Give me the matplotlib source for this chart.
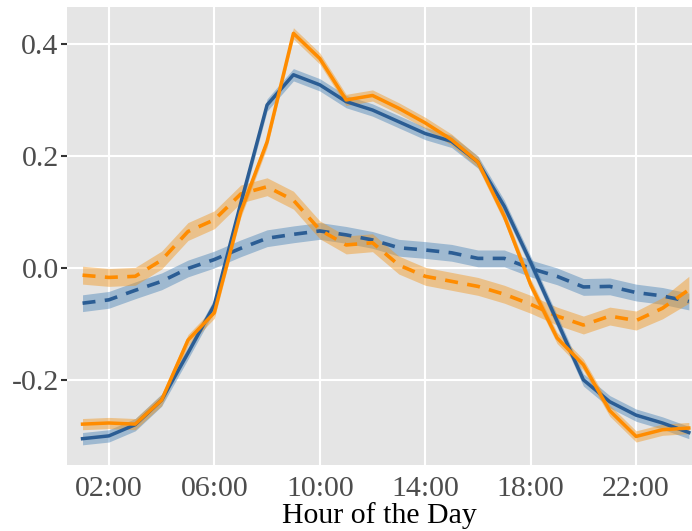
import numpy as np
import matplotlib.pyplot as plt

plt.rcParams['font.family'] = ['Liberation Serif', 'DejaVu Serif']
plt.rcParams['axes.unicode_minus'] = False

# hourly means, 1..24
hours = np.arange(1, 25)

blue_solid = [-0.305, -0.300, -0.280, -0.236, -0.152, -0.066, 0.115, 0.291,
              0.345, 0.327, 0.297, 0.282, 0.261, 0.240, 0.226, 0.189,
              0.110, 0.010, -0.095, -0.200, -0.239, -0.263, -0.277, -0.294]
orange_solid = [-0.279, -0.277, -0.279, -0.236, -0.129, -0.080, 0.100, 0.225,
                0.419, 0.374, 0.300, 0.308, 0.285, 0.259, 0.229, 0.189,
                0.092, -0.030, -0.125, -0.173, -0.255, -0.301, -0.289, -0.286]
blue_dash = [-0.063, -0.057, -0.040, -0.024, -0.001, 0.015, 0.035, 0.053,
             0.060, 0.066, 0.059, 0.050, 0.036, 0.032, 0.027, 0.017,
             0.017, -0.001, -0.015, -0.034, -0.033, -0.044, -0.050, -0.060]
orange_dash = [-0.013, -0.017, -0.015, 0.014, 0.065, 0.086, 0.132, 0.145,
               0.121, 0.068, 0.041, 0.045, 0.005, -0.015, -0.024, -0.033,
               -0.047, -0.065, -0.086, -0.102, -0.086, -0.094, -0.072, -0.039]

# half-widths of the shaded bands
blue_solid_ci = [0.011] * 24
orange_solid_ci = [0.010] * 24
blue_dash_ci = [0.015] * 24
orange_dash_ci = [0.016] * 21 + [0.017, 0.019, 0.024]

tick_hours = [2, 6, 10, 14, 18, 22]
tick_labels = ['02:00', '06:00', '10:00', '14:00', '18:00', '22:00']
y_ticks = [-0.2, 0.0, 0.2, 0.4]

BLUE = '#2b5d94'
BLUE_BAND = '#4a84b8'
ORANGE = '#ff8c00'
ORANGE_BAND = '#f2961e'

fig = plt.figure(figsize=(6.92, 5.31), dpi=100)
ax = fig.add_axes([0.0968, 0.1243, 0.9032, 0.8625])
ax.set_facecolor('#e5e5e5')

series = [
    (blue_dash, blue_dash_ci, BLUE, BLUE_BAND, '--'),
    (orange_dash, orange_dash_ci, ORANGE, ORANGE_BAND, '--'),
    (blue_solid, blue_solid_ci, BLUE, BLUE_BAND, '-'),
    (orange_solid, orange_solid_ci, ORANGE, ORANGE_BAND, '-'),
]
for vals, ci, col, band, ls in series:
    v = np.array(vals)
    c = np.array(ci)
    ax.fill_between(hours, v - c, v + c, color=band, alpha=0.45, lw=0)
    if ls == '--':
        ax.plot(hours, v, color=col, lw=2.6, dashes=(3.6, 2.6))
    else:
        ax.plot(hours, v, color=col, lw=2.5)

ax.set_xlim(0.41, 24.12)
ax.set_ylim(-0.352, 0.466)
ax.set_xticks(tick_hours)
ax.set_xticklabels(tick_labels)
ax.set_yticks(y_ticks)
ax.set_yticklabels(['-0.2', '0.0', '0.2', '0.4'])
ax.grid(True, color='white', lw=1.5)
ax.set_axisbelow(True)
for s in ax.spines.values():
    s.set_visible(False)
ax.tick_params(axis='both', labelsize=21.5, colors='#4d4d4d')
ax.tick_params(axis='y', length=4, width=1.5, color='#333333', pad=2)
ax.tick_params(axis='x', length=0, pad=8)
ax.set_xlabel('Hour of the Day', fontsize=21.5, labelpad=0)

fig.savefig('out.png', dpi=100)
